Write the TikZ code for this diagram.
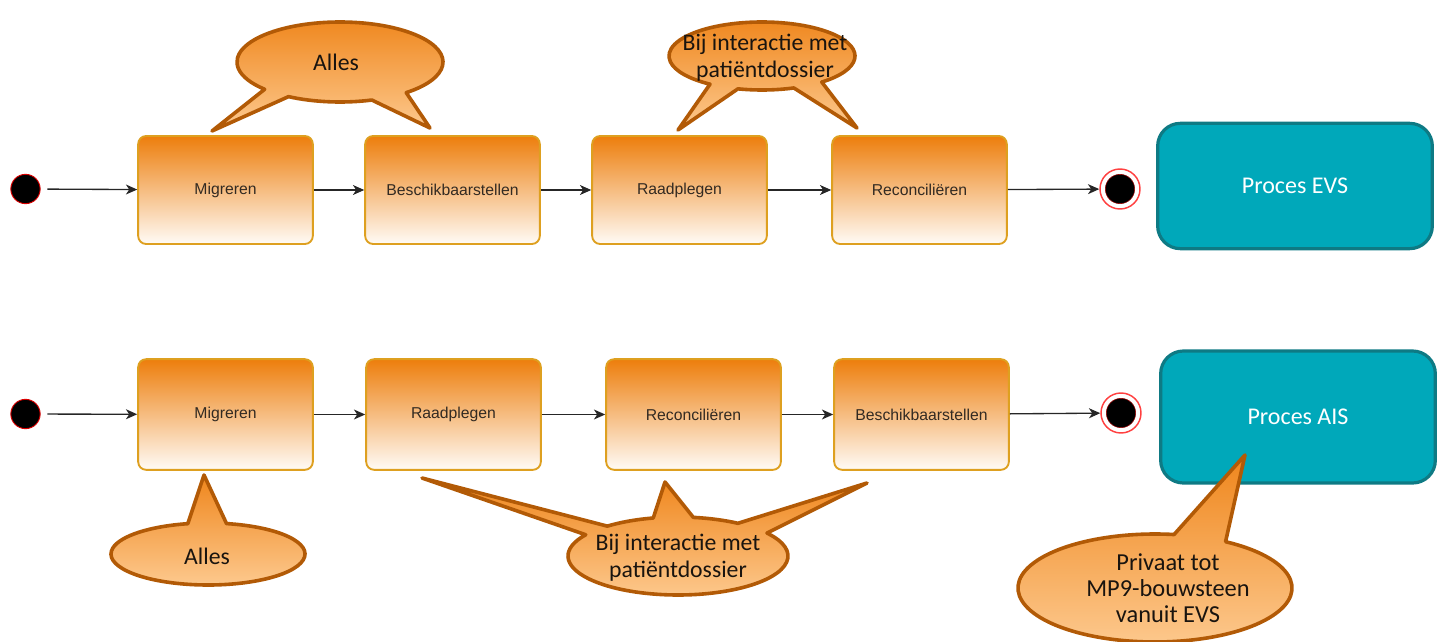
\documentclass[tikz,border=0pt]{standalone}
\usepackage{fontspec}
\setmainfont{Carlito}
\newfontfamily\boxfont{Liberation Sans}
\usetikzlibrary{arrows.meta}
\definecolor{boxtop}{RGB}{237,126,12}
\definecolor{boxbot}{RGB}{255,251,246}
\definecolor{boxedge}{RGB}{222,160,32}
\definecolor{caltop}{RGB}{239,134,28}
\definecolor{calbot}{RGB}{253,202,144}
\definecolor{caledge}{RGB}{178,90,6}
\definecolor{tealfill}{RGB}{0,168,186}
\definecolor{tealedge}{RGB}{14,122,132}
\definecolor{boxtext}{RGB}{50,42,34}
\definecolor{caltext}{RGB}{25,20,15}
\tikzset{
  stepbox/.style={rectangle, rounded corners=6pt, draw=boxedge, line width=1.4pt,
    top color=boxtop, bottom color=boxbot, minimum width=131pt, minimum height=81pt,
    font=\boxfont\fontsize{11.8}{13}\selectfont, text=boxtext},
  procbox/.style={rectangle, rounded corners=17pt, draw=tealedge, line width=2.4pt,
    fill=tealfill, minimum width=206pt, text=white, font=\fontsize{18}{21}\selectfont},
  startdot/.style={circle, fill=black, draw=red!85!black, line width=0.7pt, minimum size=22pt, inner sep=0pt},
  endring/.style={circle, fill=white, draw=red!75, line width=1.1pt, minimum size=30pt, inner sep=0pt},
  enddot/.style={circle, fill=black, draw=red!60!black, line width=0.4pt, minimum size=22pt, inner sep=0pt},
  arr/.style={-{Stealth[length=8.5pt,width=7.5pt,inset=2.5pt]}, line width=1pt, draw=black!85},
  callout/.style={top color=caltop, bottom color=calbot, draw=caledge, line width=2.7pt, line join=round},
  caltxt/.style={text=caltext, font=\fontsize{17.8}{20}\selectfont, align=center, inner sep=0pt},
}
\begin{document}
\begin{tikzpicture}[x=0.75pt,y=-0.75pt]
\useasboundingbox (0,0) rectangle (1440,642);

% ---------- top row ----------
\node[startdot] (s1) at (25.5,189) {};
\node[stepbox] (m1) at (225.5,190) {Migreren};
\node[stepbox] (b1) at (452.5,190) {Beschikbaarstellen};
\node[stepbox] (r1) at (679.5,190) {Raadplegen};
\node[stepbox] (c1) at (919.5,190) {Reconciliëren};
\node[endring] (e1) at (1120,189) {};
\node[enddot] (e1d) at (1120,189) {};
\node[procbox, minimum height=94pt] (p1) at (1295,186) {Proces EVS};

\draw[arr, shorten <=5pt] (s1) -- (m1);
\draw[arr] (m1) -- (b1);
\draw[arr] (b1) -- (r1);
\draw[arr] (r1) -- (c1);
\draw[arr] (c1) -- (e1);

% ---------- bottom row ----------
\node[startdot] (s2) at (25.5,414) {};
\node[stepbox, minimum height=83pt] (m2) at (225.5,414.5) {Migreren};
\node[stepbox, minimum height=83pt] (r2) at (453.5,414.5) {Raadplegen};
\node[stepbox, minimum height=83pt] (c2) at (693.5,414.5) {Reconciliëren};
\node[stepbox, minimum height=83pt] (b2) at (921.5,414.5) {Beschikbaarstellen};
\node[endring] (e2) at (1121,413) {};
\node[enddot] (e2d) at (1121,413) {};
\node[procbox, minimum height=99pt] (p2) at (1298,417) {Proces AIS};

\draw[arr, shorten <=5pt] (s2) -- (m2);
\draw[arr] (m2) -- (r2);
\draw[arr] (r2) -- (c2);
\draw[arr] (c2) -- (b2);
\draw[arr] (b2) -- (e2);

% ---------- callouts ----------
% top "Alles"
\shade[callout] ([shift={(137:103 and 40)}]340,62) -- (212,131)
  -- ([shift={(120:103 and 40)}]340,62) arc[start angle=120, end angle=72, x radius=103, y radius=40]
  -- (430,128) -- ([shift={(50:103 and 40)}]340,62)
  arc[start angle=50, end angle=-223, x radius=103, y radius=40] -- cycle;
\node[caltxt] (t1) at (336,62) {Alles};

% top "Bij interactie"
\shade[callout] ([shift={(124:93 and 34)}]762,56) -- (678,130)
  -- ([shift={(105:93 and 34)}]762,56) arc[start angle=105, end angle=70, x radius=93, y radius=34]
  -- (857,128) -- ([shift={(50:93 and 34)}]762,56)
  arc[start angle=50, end angle=-236, x radius=93, y radius=34] -- cycle;
\node[caltxt] (t2) at (765,58) {Bij interactie met\\patiëntdossier};

% bottom "Alles"
\shade[callout] ([shift={(-102:97 and 31)}]208,554) -- (204,475)
  -- ([shift={(-79:97 and 31)}]208,554)
  arc[start angle=-79, end angle=258, x radius=97, y radius=31] -- cycle;
\node[caltxt] (t3) at (207,556) {Alles};

% bottom "Bij interactie"
\shade[callout] ([shift={(-147:110 and 39)}]678,556) -- (422,478)
  -- ([shift={(-130:110 and 39)}]678,556) arc[start angle=-130, end angle=-103, x radius=110, y radius=39]
  -- (665,482) -- ([shift={(-82:110 and 39)}]678,556)
  arc[start angle=-82, end angle=-57, x radius=110, y radius=39]
  -- (867,483) -- ([shift={(-36:110 and 39)}]678,556)
  arc[start angle=-36, end angle=213, x radius=110, y radius=39] -- cycle;
\node[caltxt] (t4) at (678,558) {Bij interactie met\\patiëntdossier};

% "Privaat tot"
\shade[callout] ([shift={(-82:137 and 54)}]1155,588) -- (1245,455)
  -- ([shift={(-59:137 and 54)}]1155,588)
  arc[start angle=-59, end angle=278, x radius=137, y radius=54] -- cycle;
\node[caltxt, font=\fontsize{18.3}{19.5}\selectfont] (t5) at (1168,588) {Privaat tot\\MP9-bouwsteen\\vanuit EVS};
\end{tikzpicture}
\end{document}
